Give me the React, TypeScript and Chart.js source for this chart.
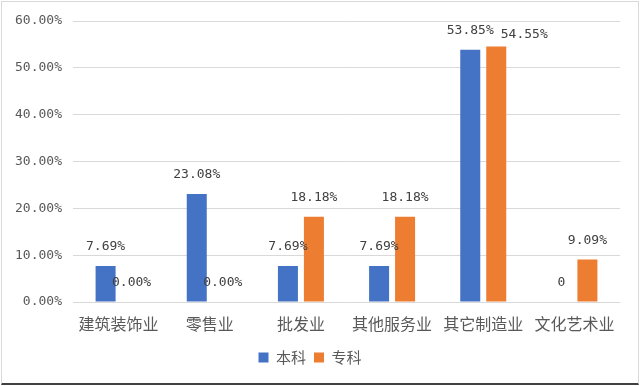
import React, { useEffect, useRef } from "react";
import { Chart, registerables } from "chart.js";

Chart.register(...registerables);

const categories = ["建筑装饰业", "零售业", "批发业", "其他服务业", "其它制造业", "文化艺术业"];
const seriesNames = ["本科", "专科"];
const benkeValues = [7.69, 23.08, 7.69, 7.69, 53.85, 0];
const zhuankeValues = [0, 0, 18.18, 18.18, 54.55, 9.09];
const benkeLabels = ["7.69%", "23.08%", "7.69%", "7.69%", "53.85%", "0"];
const zhuankeLabels = ["0.00%", "0.00%", "18.18%", "18.18%", "54.55%", "9.09%"];
const yTicks = [0, 10, 20, 30, 40, 50, 60];

const BLUE = "#4472C4";
const ORANGE = "#ED7D31";

const labelSets = [benkeLabels, zhuankeLabels];

const dataLabelPlugin = {
  id: "dataLabels",
  afterDatasetsDraw(chart: any) {
    const ctx = chart.ctx;
    ctx.save();
    ctx.font = "13px 'DejaVu Sans Mono', monospace";
    ctx.fillStyle = "#404040";
    ctx.textAlign = "center";
    ctx.textBaseline = "middle";
    chart.data.datasets.forEach((_ds: any, di: number) => {
      const meta = chart.getDatasetMeta(di);
      meta.data.forEach((el: any, i: number) => {
        let dx = 0;
        let dy = -19;
        // avoid overlap between the two tall neighbouring labels
        if (di === 1 && i === 4) {
          dx = 28;
          dy = -12;
        }
        ctx.fillText(labelSets[di][i], el.x + dx, el.y + dy);
      });
    });
    ctx.restore();
  },
};

export default function App() {
  const ref = useRef<HTMLCanvasElement | null>(null);
  useEffect(() => {
    document.body.style.margin = "0";
    const canvas = ref.current!;
    const chart = new Chart(canvas, {
      type: "bar",
      data: {
        labels: categories,
        datasets: [
          {
            label: seriesNames[0],
            data: benkeValues,
            backgroundColor: BLUE,
            barPercentage: 0.77,
            categoryPercentage: 0.57,
          },
          {
            label: seriesNames[1],
            data: zhuankeValues,
            backgroundColor: ORANGE,
            barPercentage: 0.77,
            categoryPercentage: 0.57,
          },
        ],
      },
      options: {
        responsive: false,
        animation: false,
        devicePixelRatio: 1,
        layout: { padding: { left: 0, right: 20, top: 21, bottom: 11 } },
        plugins: {
          tooltip: { enabled: false },
          legend: {
            position: "bottom",
            labels: {
              boxWidth: 10,
              boxHeight: 10,
              padding: 8,
              color: "#595959",
              font: { size: 15, family: "'Noto Sans CJK SC', sans-serif" },
            },
          },
        },
        scales: {
          x: {
            grid: { display: false },
            border: { display: false },
            ticks: {
              color: "#595959",
              padding: 4,
              font: { size: 16, family: "'Noto Sans CJK SC', sans-serif" },
            },
            afterFit(scale: any) {
              scale.height = 40;
            },
          },
          y: {
            min: 0,
            max: 60,
            afterBuildTicks(scale: any) {
              scale.ticks = yTicks.map((v) => ({ value: v }));
            },
            grid: { color: "#d9d9d9", lineWidth: 1, drawTicks: false },
            border: { display: false },
            ticks: {
              color: "#595959",
              padding: 11,
              font: { size: 13, family: "'DejaVu Sans Mono', monospace" },
              callback: (v: any) => Number(v).toFixed(2) + "%",
            },
            afterFit(scale: any) {
              scale.width = 73;
            },
          },
        },
      },
      plugins: [dataLabelPlugin],
    });
    return () => chart.destroy();
  }, []);
  return (
    <div style={{ position: "relative", width: 640, height: 386, background: "#fff" }}>
      <canvas ref={ref} width={640} height={386} style={{ position: "absolute", left: 0, top: 0 }} />
      <div
        style={{
          position: "absolute",
          left: 1,
          top: 1,
          width: 636,
          height: 381,
          border: "1px solid #d9d9d9",
          borderBottom: "2px solid #404040",
          pointerEvents: "none",
        }}
      />
    </div>
  );
}
